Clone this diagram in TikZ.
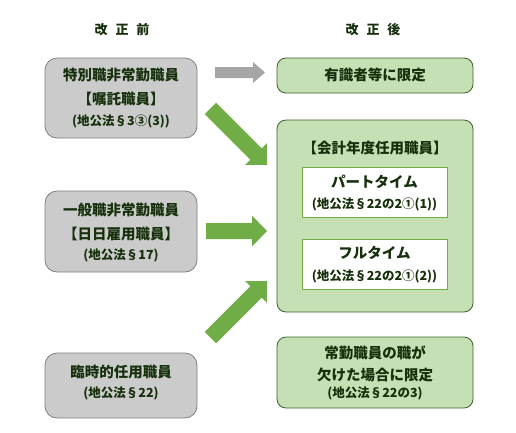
\documentclass[tikz,border=0pt]{standalone}
\usepackage{fontspec}
\setmainfont{Noto Sans CJK JP}
\definecolor{txt}{HTML}{15300B}
\definecolor{grayfill}{HTML}{CBCBCB}
\definecolor{grayline}{HTML}{7F7F7F}
\definecolor{greenfill}{HTML}{C5E0B4}
\definecolor{greenline}{HTML}{3B6128}
\definecolor{innerline}{HTML}{70AD47}
\definecolor{arrgreen}{HTML}{70AD47}
\definecolor{arrgray}{HTML}{A6A6A6}
\tikzset{
  big/.style={font=\fontsize{14.5}{16}\selectfont\bfseries, text=txt},
  small/.style={font=\fontsize{12.5}{14}\selectfont\bfseries, text=txt},
  head/.style={font=\fontsize{13}{15}\selectfont\bfseries, text=txt},
  graybox/.style={draw=grayline, fill=grayfill, rounded corners=12pt, line width=0.8pt},
  greenbox/.style={draw=greenline, fill=greenfill, rounded corners=9pt, line width=0.8pt},
  innerbox/.style={draw=innerline, fill=white, line width=0.8pt},
  garrow/.style={fill=arrgreen},
  grarrow/.style={fill=arrgray},
}
\newcommand\blockarrow[8]{% style, x, y, angle, length, shaft half, head half, head length
  \fill[#1, shift={(#2,#3)}, rotate=#4] (0,-#6) -- (#5-#8,-#6) -- (#5-#8,-#7) -- (#5,0) -- (#5-#8,#7) -- (#5-#8,#6) -- (0,#6) -- cycle;}
\begin{document}
\begin{tikzpicture}[x=1pt,y=-1pt]
\useasboundingbox (0,0) rectangle (516,432);
% headings
\node[head] (h1) at (122,30) {改\hspace{0.6em}正\hspace{0.6em}前};
\node[head] (h2) at (373,30) {改\hspace{0.6em}正\hspace{0.6em}後};
% left boxes
\draw[graybox] (45,58) rectangle (197,138);
\node[big] (l1a) at (121,75) {特別職非常勤職員};
\node[big] (l1b) at (121,99) {【嘱託職員】};
\node[small] (l1c) at (121,121) {(地公法§3③(3))};
\draw[graybox] (45,191) rectangle (197,272);
\node[big] (l2a) at (121,210) {一般職非常勤職員};
\node[big] (l2b) at (121,234) {【日日雇用職員】};
\node[small] (l2c) at (121,255) {(地公法§17)};
\draw[graybox] (45,353) rectangle (197,418);
\node[big] (l3a) at (121,372) {臨時的任用職員};
\node[small] (l3b) at (121,393) {(地公法§22)};
% right boxes
\draw[greenbox] (277,58) rectangle (473,93);
\node[big] (r1) at (375,75) {有識者等に限定};
\draw[greenbox] (277,120) rectangle (473,312);
\node[big] (r2) at (375,148) {【会計年度任用職員】};
\draw[innerbox] (302,167) rectangle (447,217);
\node[big] (r2a) at (374.5,182) {パートタイム};
\node[small] (r2b) at (374.5,204) {(地公法§22の2①(1))};
\draw[innerbox] (302,239) rectangle (447,289);
\node[big] (r2c) at (374.5,253) {フルタイム};
\node[small] (r2d) at (374.5,276) {(地公法§22の2①(2))};
\draw[greenbox] (277,337) rectangle (473,408);
\node[big] (r3a) at (375,353) {常勤職員の職が};
\node[big] (r3b) at (375,375) {欠けた場合に限定};
\node[small] (r3c) at (375,393) {(地公法§22の3)};
% arrows
\blockarrow{grarrow}{215}{72.5}{0}{50}{5.5}{10.5}{12}
\blockarrow{garrow}{210.4}{108.4}{-45}{80}{8}{15.5}{15.5}
\blockarrow{garrow}{206}{231}{0}{61}{8}{15.5}{15}
\blockarrow{garrow}{210.4}{337.6}{45}{80}{8}{15.5}{15.5}
\end{tikzpicture}
\end{document}
